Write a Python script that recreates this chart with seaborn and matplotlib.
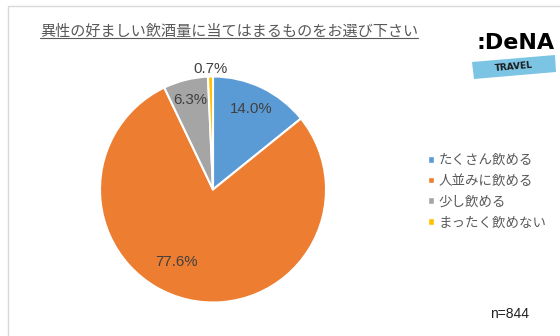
import matplotlib
matplotlib.use("Agg")
import matplotlib.pyplot as plt
import seaborn as sns
import numpy as np
from matplotlib.patches import Rectangle, Polygon
from matplotlib.lines import Line2D

sns.set_theme(style="white")
plt.rcParams['font.family'] = ['Noto Sans CJK JP', 'DejaVu Sans']

title = "異性の好ましい飲酒量に当てはまるものをお選び下さい"
categories = ["たくさん飲める", "人並みに飲める", "少し飲める", "まったく飲めない"]
values = [14.0, 77.6, 6.3, 0.7]
colors = sns.color_palette(["#5B9BD5", "#ED7D31", "#A5A5A5", "#FFC000"])
note = "n=844"

W, H = 560, 336
fig = plt.figure(figsize=(W / 100, H / 100), dpi=100)

def px(x, y):
    return x / W, 1 - y / H

# border
fig.patches.append(Rectangle(px(7.5, 340), (W + 10) / W, (340 - 5.5) / H,
                             transform=fig.transFigure, fill=False,
                             edgecolor="#D9D9D9", linewidth=1.0))

cx, cy, r = 213, 189.5, 113
ax = fig.add_axes([(cx - r) / W, (H - cy - r) / H, 2 * r / W, 2 * r / H])
wedges, _ = ax.pie(values, colors=colors, startangle=90, counterclock=False,
                   radius=1, wedgeprops=dict(edgecolor="white", linewidth=1.5))
ax.set_xlim(-1, 1)
ax.set_ylim(-1, 1)
ax.set_aspect("equal")
ax.axis("off")

label_dist = [0.79, 0.72, 0.82, 1.07]
label_shift = [0, -14, 0, 0]
for w, v, d, s in zip(wedges, values, label_dist, label_shift):
    ang = np.deg2rad((w.theta1 + w.theta2) / 2 + s)
    ax.text(d * np.cos(ang), d * np.sin(ang), f"{v:.1f}%", ha="center", va="center",
            fontsize=10.8, color="#404040", family=['Liberation Sans', 'DejaVu Sans'])

# title with underline
t = fig.text(*px(40, 31), title, ha="left", va="center", fontsize=10.9, color="#595959")
fig.canvas.draw()
bb = t.get_window_extent()
fig.add_artist(Line2D([bb.x0 / W, bb.x1 / W], [px(0, 38)[1]] * 2,
                      transform=fig.transFigure, color="#595959", linewidth=0.8))

# legend
handles = [Rectangle((0, 0), 1, 1, facecolor=c) for c in colors]
leg = fig.legend(handles, categories, loc="upper left", bbox_to_anchor=px(416, 141),
                 frameon=False, fontsize=9.7, handlelength=0.4, handleheight=0.4,
                 handletextpad=0.35, labelspacing=0.5, labelcolor="#595959")

fig.text(*px(510, 314), note, ha="center", va="center", fontsize=10, color="#202020",
         family=['Liberation Sans', 'DejaVu Sans'])

# logo
fig.text(*px(516, 43), ":DeNA", ha="center", va="center", fontsize=16, fontweight="bold",
         color="black", family=['DejaVu Sans'])
poly = Polygon([px(472, 62), px(555, 55), px(556, 72), px(474, 79)], closed=True,
               transform=fig.transFigure, facecolor="#7CC4E4", edgecolor="none")
fig.patches.append(poly)
fig.text(*px(514, 67), "TRAVEL", ha="center", va="center", fontsize=6.5, fontweight="bold",
         color="#1a1a1a", rotation=5, family=['DejaVu Sans'])

fig.savefig("out.png", dpi=100, facecolor="white")
